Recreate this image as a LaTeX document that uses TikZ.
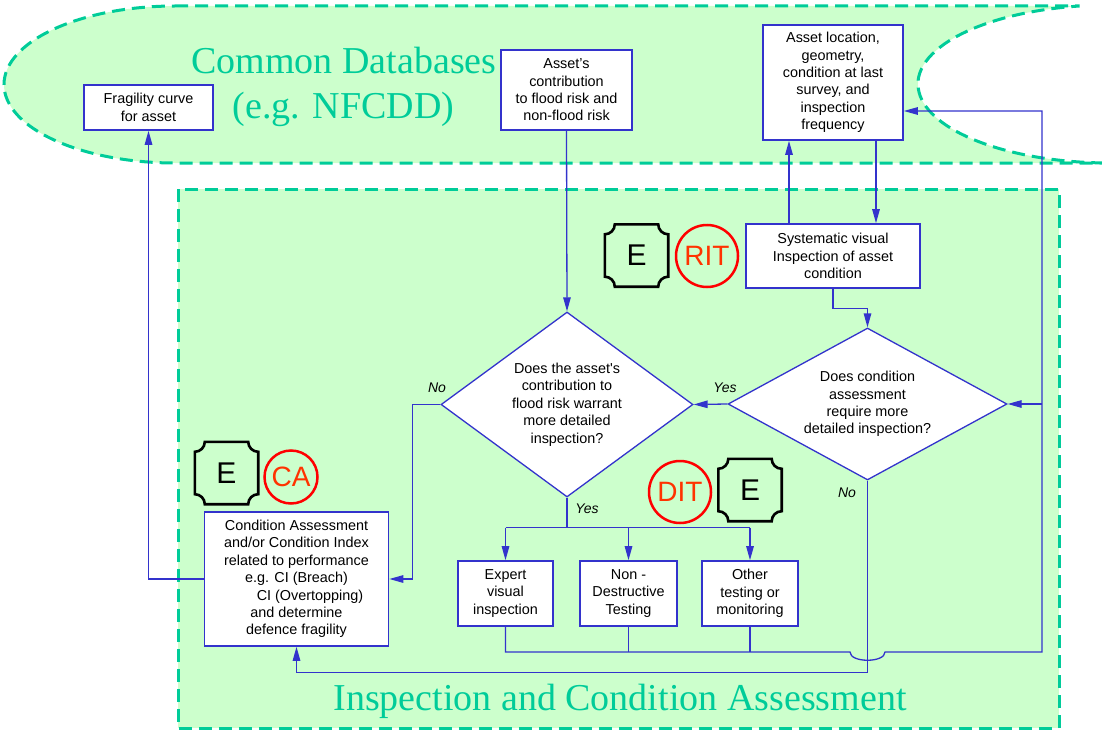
\documentclass[tikz,border=0pt]{standalone}
\usepackage{fontspec}
\setmainfont{Liberation Serif}
\setsansfont{Liberation Sans}
\usetikzlibrary{arrows.meta,shapes.geometric,calc}
\definecolor{dbteal}{HTML}{00CC99}
\definecolor{bgreen}{HTML}{CCFFCC}
\definecolor{fblue}{HTML}{3333CC}
\definecolor{ctext}{HTML}{FF3300}
\newcommand\drawEframe[1]{\draw[eframe] ($(#1.north west)+(0,10)$) arc[start angle=90,end angle=0,radius=10] -- ($(#1.north east)+(-10,0)$) arc[start angle=180,end angle=90,radius=10] -- ($(#1.south east)+(0,-10)$) arc[start angle=270,end angle=180,radius=10] -- ($(#1.south west)+(10,0)$) arc[start angle=0,end angle=-90,radius=10] -- cycle;}
\begin{document}
\begin{tikzpicture}[x=1pt,y=-1pt,
  txt/.style={font=\sffamily\fontsize{14.4}{17.4}\selectfont},
  box/.style={txt,draw=fblue,line width=1.6pt,fill=white,inner sep=0pt,align=center},
  dia/.style={txt,diamond,draw=fblue,line width=1.3pt,fill=white,inner sep=0pt,align=center},
  conn/.style={draw=fblue,line width=1.3pt},
  arr/.style={conn,-{Triangle[length=14pt,width=7.5pt]}},
  lab/.style={font=\sffamily\itshape\fontsize{14}{17}\selectfont,inner sep=0pt,anchor=base},
  zone/.style={fill=bgreen,draw=dbteal,line width=3pt,dash pattern=on 13pt off 7pt},
  big/.style={text=dbteal,font=\rmfamily\fontsize{38}{45}\selectfont,inner sep=0pt,anchor=base},
  eframe/.style={draw=black,line width=2.6pt},
  etext/.style={font=\sffamily\fontsize{30}{30}\selectfont,minimum width=63pt,minimum height=62pt,inner sep=0pt},
  ring/.style={circle,draw=red,line width=2.5pt,text=ctext,font=\sffamily\fontsize{28}{28}\selectfont,inner sep=0pt},
]
\useasboundingbox (0,0) rectangle (1102,733);
% background zones
\path[zone] (175,6) -- (1079.6,6) arc[start angle=260.9,end angle=92.4,x radius=192,y radius=79] -- (1102,163) -- (175,163) arc[start angle=90,end angle=270,x radius=171,y radius=78.5] -- cycle;
\path[zone] (178,189) rectangle (1059,728);
% titles
\node[big] (db1) at (344,74) {Common Databases};
\node[big] (db2) at (343.5,119) {(e.g. NFCDD)};
\node[big] (ica) at (620,710) {Inspection and Condition Assessment};
% boxes
\node[box,minimum width=129pt,minimum height=45pt] (frag) at (148.5,107.5) {Fragility curve\\for asset};
\node[box,minimum width=131pt,minimum height=80pt] (contrib) at (566.5,90) {Asset’s\\contribution\\to flood risk and\\non-flood risk};
\node[box,minimum width=140pt,minimum height=115pt] (loc) at (833,82.5) {Asset location,\\geometry,\\condition at last\\survey, and\\inspection\\frequency};
\node[box,minimum width=174pt,minimum height=64pt] (sys) at (833,256) {Systematic visual\\Inspection of asset\\condition};
\node[dia,aspect=1.36,minimum width=252pt,minimum height=185pt] (d1) at (567,404.5) {Does the asset\textquotesingle s\\contribution to\\flood risk warrant\\more detailed\\inspection?};
\node[dia,aspect=1.835,minimum width=279pt,minimum height=152pt] (d2) at (867.5,404) {Does condition\\assessment\\require more\\detailed inspection?};
\node[box,minimum width=184pt,minimum height=134pt] (ca) at (296.5,579) {Condition Assessment\\and/or Condition Index\\related to performance\\e.g. CI (Breach)\hspace*{37pt}\\\hspace*{27pt}CI (Overtopping)\\and determine\\defence fragility};
\node[box,minimum width=95pt,minimum height=65pt] (exp) at (505.5,593.5) {Expert\\visual\\inspection};
\node[box,minimum width=97pt,minimum height=65pt] (ndt) at (628.5,593.5) {Non -\\Destructive\\Testing};
\node[box,minimum width=96pt,minimum height=65pt] (oth) at (750,593.5) {Other\\testing or\\monitoring};
% E symbols and rings
\node[etext] (e1) at (636.5,255.5) {E};
\drawEframe{e1}
\node[ring,minimum size=62pt] (rit) at (707,256) {RIT};
\node[etext] (e2) at (226.5,473) {E};
\drawEframe{e2}
\node[ring,minimum size=53pt] (cab) at (291,477) {CA};
\node[ring,minimum size=62pt] (dit) at (680,492) {DIT};
\node[etext] (e3) at (750,490) {E};
\drawEframe{e3}
% labels
\node[lab] (lno1) at (437,392) {No};
\node[lab] (lyes1) at (725,392) {Yes};
\node[lab] (lyes2) at (587,513) {Yes};
\node[lab] (lno2) at (847,497) {No};
% connectors
\draw[arr] (contrib.south) -- (d1.north);
\draw[arr] ($(loc.south)+(43,0)$) -- ($(sys.north)+(43,0)$);
\draw[arr] ($(sys.north)+(-44,0)$) -- ($(loc.south)+(-44,0)$);
\draw[arr] (sys.south) -- ++(0,20) -| (d2.north);
\draw[arr] (d2.west) -- (d1.east);
\draw[arr] (d1.west) -- ++(-28,0) |- (ca.east);
\draw[arr] (ca.west) -| (frag.south);
\draw[conn] (d1.south) -- ++(0,30) coordinate (split);
\draw[conn] (exp.north |- split) -- (oth.north |- split);
\draw[arr] (exp.north |- split) -- (exp.north);
\draw[arr] (ndt.north |- split) -- (ndt.north);
\draw[arr] (oth.north |- split) -- (oth.north);
\coordinate (b1) at (505.5,652);
\coordinate (hopc) at (d2.south |- b1);
\coordinate (rb) at (1042,652);
\coordinate (rtop) at (1042,111);
\draw[conn] (ndt.south) -- (ndt.south |- b1);
\draw[conn] (oth.south) -- (oth.south |- b1);
\draw[arr] (exp.south) -- (exp.south |- b1) -- ($(hopc)+(-17.5,0)$) .. controls +(0,11) and +(0,11) .. ($(hopc)+(17.5,0)$) -- (rb) -- (rtop) -- (rtop -| loc.east);
\draw[arr] (rb |- d2.east) -- (d2.east);
\draw[arr] (d2.south) -- ++(0,192) -| (ca.south);
\end{tikzpicture}
\end{document}
